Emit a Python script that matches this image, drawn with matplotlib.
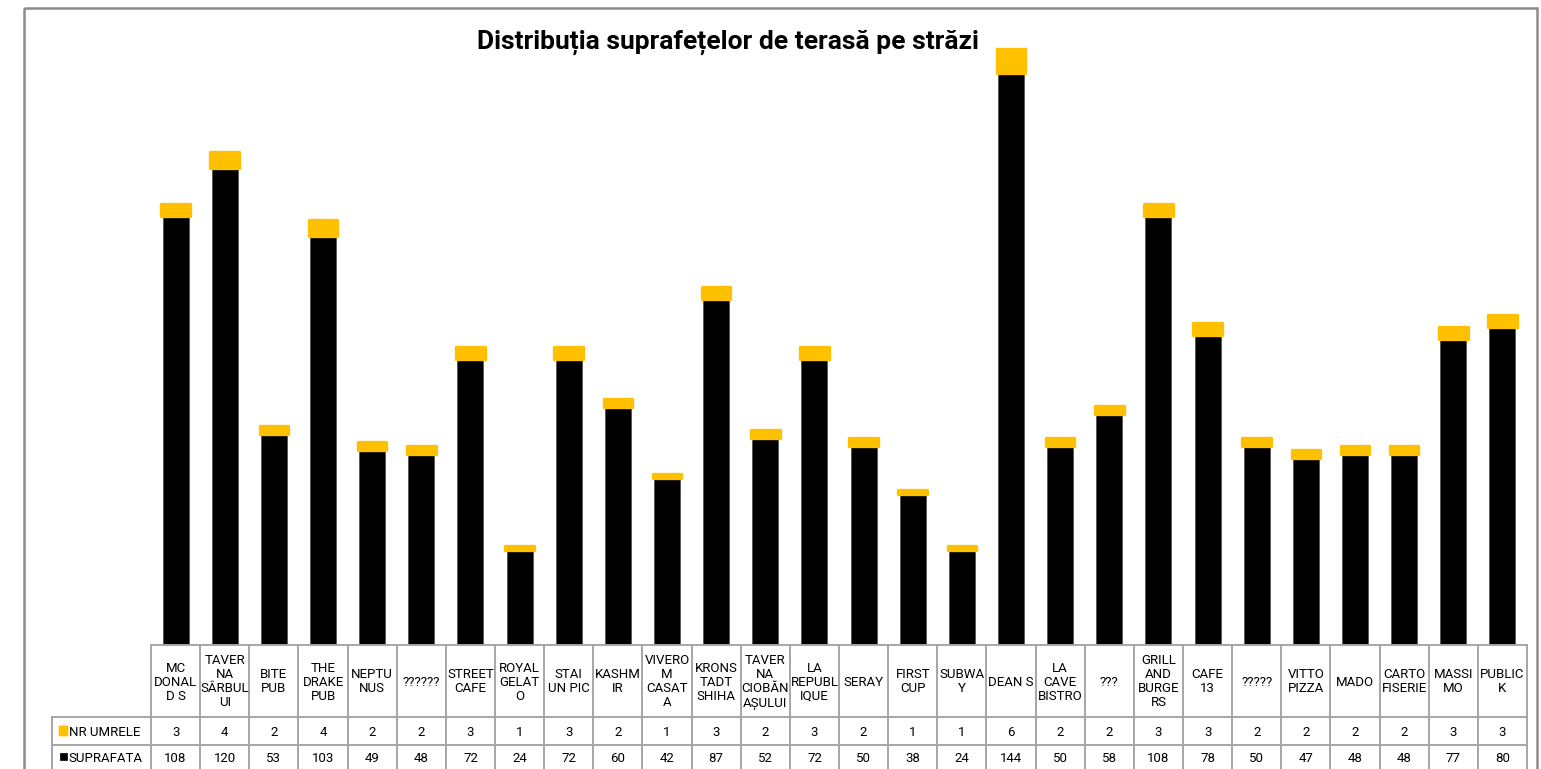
import matplotlib
matplotlib.use("Agg")
import matplotlib.pyplot as plt
from matplotlib.patches import Rectangle, FancyBboxPatch

plt.rcParams['font.family'] = ['Roboto', 'DejaVu Sans']

names = ["MC\nDONAL\nD S", "TAVER\nNA\nSÂRBUL\nUI", "BITE\nPUB", "THE\nDRAKE\nPUB",
         "NEPTU\nNUS", "??????", "STREET\nCAFE", "ROYAL\nGELAT\nO", "STAI\nUN PIC",
         "KASHM\nIR", "VIVERO\nM\nCASAT\nA", "KRONS\nTADT\nSHIHA",
         "TAVER\nNA\nCIOBĂN\nAȘULUI", "LA\nREPUBL\nIQUE", "SERAY", "FIRST\nCUP",
         "SUBWA\nY", "DEAN S", "LA\nCAVE\nBISTRO", "???", "GRILL\nAND\nBURGE\nRS",
         "CAFE\n13", "?????", "VITTO\nPIZZA", "MADO", "CARTO\nFISERIE", "MASSI\nMO",
         "PUBLIC\nK"]
nr_umbrele = [3, 4, 2, 4, 2, 2, 3, 1, 3, 2, 1, 3, 2, 3, 2, 1, 1, 6, 2, 2, 3, 3, 2, 2, 2, 2, 3, 3]
suprafata = [108, 120, 53, 103, 49, 48, 72, 24, 72, 60, 42, 87, 52, 72, 50, 38, 24, 144,
             50, 58, 108, 78, 50, 47, 48, 48, 77, 80]
series_labels = ["NR UMRELE", "SUPRAFATA"]
title = "Distribuția suprafețelor de terasă pe străzi"

YELLOW = "#FFC000"
GRID = "#A6A6A6"
W, H = 1541, 769
fig = plt.figure(figsize=(W / 100, H / 100), dpi=100)

def fx(px):
    return px / W

def fy(py):
    return 1 - py / H

# outer frame
frame = fig.add_axes([0, 0, 1, 1])
frame.set_xlim(0, W)
frame.set_ylim(H, 0)
frame.axis("off")
frame.add_patch(Rectangle((24, 8), 1537 - 24, 800, fill=False, edgecolor="#8C8C8C", lw=1.8))

# main axes
x_left, x_right = 151, 1527
y_base, y_top = 645, 40
ax = fig.add_axes([fx(x_left), fy(y_base), fx(x_right - x_left), (y_base - y_top) / H])
n = len(names)
xs = list(range(n))
ymax = (y_base - y_top) / 3.975
ax.bar(xs, suprafata, width=0.53, color="black", edgecolor="#555555", linewidth=0.6, zorder=2)
ax.bar(xs, nr_umbrele, bottom=suprafata, width=0.58, color=YELLOW, edgecolor=YELLOW,
       linewidth=2.4, joinstyle="round", zorder=3)
ax.set_xlim(-0.5, n - 0.5)
ax.set_ylim(0, ymax)
ax.axis("off")

fig.text(fx(728), fy(42), title, ha="center", va="center", fontsize=19,
         fontweight="bold", family=["Roboto", "DejaVu Sans"])

# table axes
lab_left = 52
cw = (x_right - x_left) / n
tax = fig.add_axes([fx(lab_left), 0, fx(x_right - lab_left), fy(y_base)])
tax.set_xlim(-0.5 - (x_left - lab_left) / cw, n - 0.5)
tax.set_ylim(H, y_base)
tax.axis("off")

rows = [645, 717, 745, 773]
lw = 1.4
tax.plot([-0.5, n - 0.5], [rows[0], rows[0]], color=GRID, lw=lw, clip_on=False)
for r in rows[1:]:
    tax.plot([-0.5 - (x_left - lab_left) / cw, n - 0.5], [r, r], color=GRID, lw=lw, clip_on=False)
for i in range(n + 1):
    tax.plot([i - 0.5, i - 0.5], [rows[0], H], color=GRID, lw=lw, clip_on=False)
lx = -0.5 - (x_left - lab_left) / cw
tax.plot([lx, lx], [rows[1], H], color=GRID, lw=lw, clip_on=False)

fs = 9.5
for i, name in enumerate(names):
    tax.text(i, (rows[0] + rows[1]) / 2 + 1, name, ha="center", va="center",
             fontsize=fs, linespacing=1.1)
    tax.text(i, (rows[1] + rows[2]) / 2 + 1, str(nr_umbrele[i]), ha="center", va="center", fontsize=fs)
    tax.text(i, (rows[2] + 769) / 2 + 1, str(suprafata[i]), ha="center", va="center", fontsize=fs)

key_x = lx + 7 / cw
tax.add_patch(FancyBboxPatch((key_x, 726), 9 / cw, 10, boxstyle="round,pad=0,rounding_size=0.03",
                             facecolor=YELLOW, edgecolor=YELLOW, lw=0.5))
tax.text(key_x + 10 / cw, (rows[1] + rows[2]) / 2 + 1, series_labels[0], ha="left",
         va="center", fontsize=fs)
tax.add_patch(Rectangle((key_x + 1 / cw, 753), 7 / cw, 7, facecolor="black", edgecolor="black", lw=0.5))
tax.text(key_x + 9 / cw, (rows[2] + 769) / 2 + 1, series_labels[1], ha="left",
         va="center", fontsize=fs)

fig.savefig("out.png", dpi=100)
